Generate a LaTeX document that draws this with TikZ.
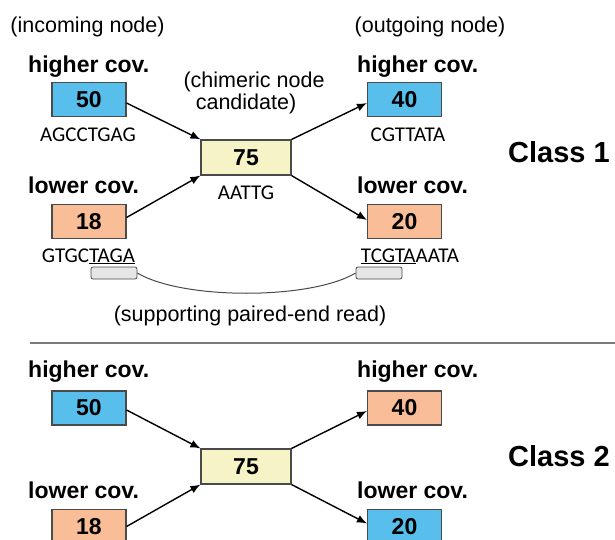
\documentclass[tikz,border=0pt]{standalone}
\usepackage{fontspec}
\setmainfont{Liberation Sans}
\newfontfamily\seqfont{Carlito}
\usetikzlibrary{arrows.meta}

\definecolor{covblue}{HTML}{58BEEB}
\definecolor{covorange}{HTML}{F9BE97}
\definecolor{candyellow}{HTML}{F6F4C6}
\definecolor{edgegray}{HTML}{4A4A4A}
\definecolor{readgray}{HTML}{E6E6E6}
\definecolor{rulegray}{HTML}{7A7A7A}

\begin{document}
\begin{tikzpicture}[x=1pt,y=-1pt,
  note/.style={font=\fontsize{21.5}{24}\selectfont, anchor=base, inner sep=0},
  cov/.style={font=\bfseries\fontsize{23}{26}\selectfont, anchor=base west, inner sep=0},
  seq/.style={font=\seqfont\fontsize{21}{24}\selectfont, anchor=base, inner sep=0},
  cls/.style={font=\bfseries\fontsize{29}{32}\selectfont, anchor=base west, inner sep=0},
  graphnode/.style={draw=edgegray, line width=1.1pt, minimum width=74pt, minimum height=34pt, inner sep=0, font=\bfseries\fontsize{23}{26}\selectfont},
  hibox/.style={graphnode, fill=covblue},
  lobox/.style={graphnode, fill=covorange},
  candbox/.style={graphnode, fill=candyellow, minimum width=90pt, minimum height=35pt},
  readbox/.style={draw=edgegray, fill=readgray, line width=0.8pt, rounded corners=2pt, minimum width=46pt, minimum height=12pt, inner sep=0},
  link/.style={-{Latex[length=10pt,width=8pt]}, line width=1.4pt, black},
]
\useasboundingbox (0,0) rectangle (615,540);

% ---------- Class 1 ----------
\node[note] (inlbl) at (87.5,33) {(incoming node)};
\node[note] (outlbl) at (430,33) {(outgoing node)};

\node[cov] (thi) at (28,73) {higher cov.};
\node[hibox] (t50) at (89,99.5) {50};
\node[seq] (tseq50) at (88,142) {AGCCTGAG};

\node[cov] (tlo) at (28,193.5) {lower cov.};
\node[lobox] (t18) at (89,221.5) {18};
\node[seq] (tseq18) at (88.5,262) {GTGC\underline{TAGA}};

\node[note] (cand1) at (254,88) {(chimeric node};
\node[note] (cand2) at (246,110) {candidate)};
\node[candbox] (t75) at (246,157.5) {75};
\node[seq] (tseq75) at (246,200) {AATTG};

\node[cov] (rthi) at (357,73) {higher cov.};
\node[hibox] (t40) at (404.5,99.5) {40};
\node[seq] (tseq40) at (408,142) {CGTTATA};

\node[cov] (rtlo) at (357,193.5) {lower cov.};
\node[lobox] (t20) at (404.5,221.5) {20};
\node[seq] (tseq20) at (410,262) {\underline{TCGTA}AATA};

\node[cls] (class1) at (508,163) {Class 1};

\draw[link] ([yshift=-3.5pt]t50.east) -- (t75.north west);
\draw[link] ([yshift=4pt]t18.east) -- (t75.south west);
\draw[link] (t75.north east) -- ([yshift=-3.5pt]t40.west);
\draw[link] (t75.south east) -- ([yshift=1.5pt]t20.west);

% paired-end read spanning the two outer nodes
\node[readbox] (readl) at (114,273) {};
\node[readbox] (readr) at (379,273) {};
\draw[edgegray, line width=1pt] (readl.east) .. controls +(45,27) and +(-45,27) .. (readr.west);
\node[note] (pelbl) at (250,321) {(supporting paired-end read)};

% separator
\draw[rulegray, line width=2pt] (30,343) -- (615,343);

% ---------- Class 2 ----------
\node[cov] (bhi) at (28,377) {higher cov.};
\node[hibox] (b50) at (89,408) {50};

\node[cov] (blo) at (28,498) {lower cov.};
\node[lobox] (b18) at (89,526.5) {18};

\node[candbox] (b75) at (246,466.5) {75};

\node[cov] (rbhi) at (357,377) {higher cov.};
\node[lobox] (b40) at (404.5,408) {40};

\node[cov] (rblo) at (357,498) {lower cov.};
\node[hibox] (b20) at (404.5,526.5) {20};

\node[cls] (class2) at (508,466) {Class 2};

\draw[link] ([yshift=-2pt]b50.east) -- (b75.north west);
\draw[link] (b18.east) -- (b75.south west);
\draw[link] (b75.north east) -- ([yshift=-3pt]b40.west);
\draw[link] (b75.south east) -- ([yshift=3pt]b20.west);
\end{tikzpicture}
\end{document}
